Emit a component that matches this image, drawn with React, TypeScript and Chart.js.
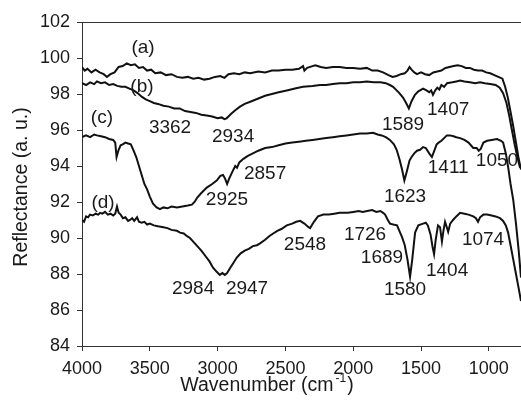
import React, { useEffect, useRef } from "react";
import { Chart, registerables } from "chart.js";

Chart.register(...registerables);

const waveA = [4000,3980,3960,3930,3900,3870,3840,3816,3790,3760,3730,3700,3670,3640,3610,3580,3550,3520,3490,3460,3420,3380,3340,3300,3260,3220,3180,3140,3100,3060,3020,2980,2950,2920,2880,2840,2800,2760,2700,2650,2600,2550,2500,2450,2400,2370,2360,2340,2300,2280,2240,2200,2150,2100,2050,2000,1950,1900,1860,1820,1780,1740,1710,1680,1650,1620,1600,1585,1570,1550,1530,1500,1470,1440,1410,1380,1350,1320,1290,1260,1230,1200,1170,1140,1110,1080,1050,1020,990,960,930,900,880,860,840,820,800,780,763];
const reflA = [99.5,99.3,99.4,99.2,99.35,99.2,99.1,98.95,99.1,99.2,99.5,99.55,99.7,99.6,99.65,99.45,99.5,99.3,99.35,99.15,99.2,99.05,99.1,98.95,98.9,98.95,98.85,98.9,98.8,98.85,98.95,99.0,98.9,99.1,99.15,99.1,99.2,99.15,99.25,99.2,99.3,99.3,99.35,99.35,99.4,99.55,99.3,99.45,99.55,99.6,99.5,99.45,99.5,99.5,99.45,99.45,99.4,99.45,99.3,99.3,99.2,99.05,98.95,99.0,99.1,99.15,99.3,99.5,99.35,99.2,99.1,99.2,99.1,99.05,99.2,99.25,99.3,99.45,99.5,99.55,99.6,99.55,99.45,99.45,99.35,99.3,99.3,99.2,99.15,99.05,98.95,98.85,98.4,97.8,97.0,96.2,95.3,94.4,93.8];

const waveB = [4000,3970,3940,3910,3890,3860,3830,3800,3770,3740,3710,3680,3650,3620,3590,3560,3530,3500,3470,3440,3400,3360,3320,3280,3240,3200,3160,3120,3080,3040,3000,2970,2950,2934,2920,2900,2870,2835,2800,2750,2700,2650,2600,2550,2490,2430,2370,2300,2245,2200,2150,2100,2050,2000,1950,1900,1850,1800,1760,1730,1706,1680,1660,1633,1610,1590,1570,1545,1520,1485,1460,1440,1425,1412,1395,1380,1365,1350,1330,1308,1270,1240,1212,1180,1140,1100,1065,1030,990,950,920,895,870,850,830,810,790,770];
const reflB = [98.6,98.5,98.65,98.55,98.7,98.6,98.65,98.5,98.55,98.45,98.4,98.4,98.3,98.2,98.05,97.85,97.7,97.6,97.5,97.45,97.35,97.3,97.2,97.2,97.05,97.0,96.95,96.85,96.8,96.75,96.65,96.7,96.6,96.65,96.75,96.9,97.1,97.3,97.45,97.6,97.75,97.9,98.0,98.1,98.2,98.3,98.4,98.45,98.5,98.5,98.55,98.6,98.6,98.65,98.65,98.7,98.65,98.65,98.6,98.5,98.4,98.2,98.05,97.8,97.5,97.2,97.6,97.95,98.15,98.3,98.2,98.1,98.2,97.95,98.2,98.35,98.25,98.5,98.4,98.6,98.65,98.7,98.75,98.7,98.65,98.6,98.65,98.6,98.55,98.5,98.35,98.05,97.5,96.8,96.0,95.2,94.5,93.9];

const waveC = [4000,3970,3940,3910,3890,3860,3830,3800,3770,3755,3745,3730,3715,3700,3680,3660,3640,3625,3600,3580,3560,3540,3520,3500,3476,3450,3425,3400,3370,3340,3300,3260,3220,3190,3170,3150,3120,3080,3040,3005,2980,2960,2945,2930,2915,2890,2870,2857,2840,2810,2780,2740,2700,2650,2600,2550,2500,2450,2400,2350,2300,2250,2200,2150,2100,2050,2000,1950,1900,1854,1820,1790,1760,1730,1700,1680,1660,1640,1623,1605,1585,1570,1550,1530,1507,1485,1465,1440,1420,1400,1385,1370,1350,1330,1310,1286,1260,1240,1212,1180,1150,1115,1090,1075,1060,1040,1013,980,940,910,895,875,858,840,820,800,780,763];
const reflC = [95.6,95.7,95.6,95.75,95.7,95.65,95.6,95.5,95.45,95.3,94.5,94.9,95.15,95.2,95.3,95.25,95.2,94.95,94.5,94.0,93.5,93.0,92.7,92.3,91.9,91.7,91.6,91.7,91.65,91.75,91.7,91.75,91.8,91.85,92.0,92.25,92.5,92.8,93.0,93.2,93.45,93.5,93.3,93.0,93.3,93.7,94.0,93.9,94.2,94.4,94.55,94.7,94.85,95.0,95.05,95.15,95.25,95.3,95.35,95.4,95.45,95.5,95.55,95.6,95.65,95.7,95.75,95.8,95.8,95.85,95.75,95.7,95.6,95.45,95.2,94.9,94.4,93.8,93.2,93.7,94.3,94.5,94.7,94.85,94.9,95.05,95.0,94.7,94.5,94.9,95.2,95.3,95.4,95.55,95.7,95.7,95.65,95.6,95.55,95.45,95.3,95.0,95.0,94.85,94.95,95.3,95.4,95.45,95.5,95.4,95.3,94.7,93.95,93.0,92.1,90.8,89.3,87.8];

const waveD = [4000,3985,3970,3955,3941,3920,3900,3880,3867,3850,3830,3810,3790,3770,3755,3742,3730,3715,3698,3680,3660,3646,3630,3615,3594,3580,3560,3540,3520,3500,3470,3440,3400,3370,3340,3300,3277,3250,3225,3204,3180,3150,3120,3090,3060,3034,3010,2984,2965,2947,2930,2910,2885,2860,2830,2800,2770,2740,2710,2687,2650,2620,2590,2560,2530,2490,2450,2420,2392,2360,2330,2318,2290,2260,2220,2180,2140,2100,2075,2040,2000,1960,1930,1898,1860,1830,1800,1780,1765,1745,1729,1705,1677,1660,1640,1620,1600,1581,1565,1544,1520,1485,1465,1450,1430,1415,1404,1392,1375,1360,1346,1335,1323,1310,1300,1285,1264,1240,1212,1180,1150,1115,1095,1080,1065,1040,1013,980,950,918,895,875,858,840,820,800,780,763];
const reflD = [91.0,90.9,91.2,91.15,91.3,91.25,91.35,91.3,91.4,91.35,91.45,91.3,91.35,91.25,91.35,91.75,91.4,91.3,91.1,91.15,90.95,91.0,91.1,90.95,91.15,90.9,90.85,90.9,90.75,90.8,90.7,90.65,90.6,90.55,90.45,90.4,90.3,90.25,90.1,90.0,89.8,89.55,89.3,89.0,88.7,88.35,88.15,87.95,88.05,87.95,88.05,88.3,88.6,88.9,89.15,89.3,89.4,89.55,89.6,89.7,89.9,90.1,90.25,90.4,90.5,90.7,90.8,90.9,90.95,90.8,90.6,90.55,90.9,91.2,91.3,91.3,91.35,91.4,91.4,91.4,91.45,91.5,91.45,91.5,91.55,91.45,91.5,91.4,91.3,91.0,90.8,90.75,90.7,90.4,90.05,89.6,88.8,87.85,88.8,90.3,90.7,90.8,90.85,90.7,90.2,89.5,89.1,89.9,90.7,90.6,89.8,90.4,90.9,90.6,90.35,90.8,91.0,91.2,91.4,91.35,91.3,91.2,91.1,90.9,91.15,91.3,91.3,91.25,91.2,91.1,90.95,90.7,90.3,89.6,88.8,88.0,87.2,86.5];

const xTicks = [4000, 3500, 3000, 2500, 2000, 1500, 1000];
const yTicks = [84, 86, 88, 90, 92, 94, 96, 98, 100, 102];

const noteTexts = ["(a)","(b)","(c)","(d)","3362","2934","1589","1407","2925","2857","1623","1411","1050","2984","2947","2548","1726","1689","1580","1404","1074"];
const noteWave = [3550,3558,3853,3845,3351,2886,1633,1300,2931,2650,1618,1300,940,3181,2783,2356,1913,1788,1618,1308,1043];
const noteRefl = [100.56,98.4,96.7,91.95,96.1,95.6,96.3,97.15,92.15,93.55,92.3,93.9,94.3,87.2,87.2,89.6,90.2,88.9,87.1,88.2,89.9];

const FONT = "'Liberation Sans', Arial, sans-serif";
const INK = "#1a1a1a";

function pts(w: number[], r: number[]) {
  return w.map((x, i) => ({ x, y: r[i] }));
}

const overlay = {
  id: "overlay",
  afterDraw(chart: any) {
    const ctx = chart.ctx;
    const { left, right, top } = chart.chartArea;
    const xs = chart.scales.x;
    const ys = chart.scales.y;
    ctx.save();
    ctx.strokeStyle = "#333";
    ctx.lineWidth = 1;
    ctx.beginPath();
    ctx.moveTo(left, top + 0.5);
    ctx.lineTo(right, top + 0.5);
    ctx.stroke();

    ctx.fillStyle = INK;
    ctx.font = `19px ${FONT}`;
    ctx.textAlign = "center";
    ctx.textBaseline = "middle";
    noteTexts.forEach((t, i) => {
      ctx.fillText(t, xs.getPixelForValue(noteWave[i]), ys.getPixelForValue(noteRefl[i]));
    });

    // x title with superscript
    const main1 = "Wavenumber (cm";
    const sup = "-1";
    const main2 = ")";
    const big = `19.5px ${FONT}`;
    const small = `12px ${FONT}`;
    ctx.font = big;
    const w1 = ctx.measureText(main1).width;
    const w3 = ctx.measureText(main2).width;
    ctx.font = small;
    const w2 = ctx.measureText(sup).width + 3;
    const total = w1 + w2 + w3;
    const cx = 267;
    const cy = 386;
    const x0 = cx - total / 2;
    ctx.textAlign = "left";
    ctx.font = big;
    ctx.fillText(main1, x0, cy);
    ctx.font = small;
    ctx.fillText(sup, x0 + w1 + 2, cy - 7);
    ctx.font = big;
    ctx.fillText(main2, x0 + w1 + w2, cy);

    // y title
    ctx.translate(22, 187);
    ctx.rotate(-Math.PI / 2);
    ctx.textAlign = "center";
    ctx.fillText("Reflectance (a. u.)", 0, 0);
    ctx.restore();
  },
};

export default function App() {
  const ref = useRef<HTMLCanvasElement | null>(null);
  useEffect(() => {
    if (!ref.current) return;
    const mk = (w: number[], r: number[]) => ({
      data: pts(w, r),
      borderColor: "#111",
      borderWidth: 2,
      pointRadius: 0,
      tension: 0,
      fill: false,
    });
    const chart = new Chart(ref.current, {
      type: "line",
      data: {
        datasets: [mk(waveA, reflA), mk(waveB, reflB), mk(waveC, reflC), mk(waveD, reflD)],
      },
      options: {
        animation: false,
        responsive: false,
        maintainAspectRatio: false,
        layout: { padding: { top: 22, right: 0, left: 0, bottom: 0 } },
        plugins: { legend: { display: false }, tooltip: { enabled: false } },
        scales: {
          x: {
            type: "linear",
            reverse: true,
            min: 763,
            max: 4000,
            afterBuildTicks: (s: any) => {
              s.ticks = xTicks.map((v) => ({ value: v }));
            },
            afterFit: (s: any) => {
              s.height = 62;
            },
            ticks: {
              autoSkip: false,
              maxRotation: 0,
              padding: 7,
              color: INK,
              font: { family: FONT, size: 18 },
              callback: (v: any) => String(v),
            },
            grid: { drawOnChartArea: false, drawTicks: true, tickLength: 5, color: "#333" },
            border: { display: true, color: "#333", width: 1 },
          },
          y: {
            type: "linear",
            min: 84,
            max: 102,
            afterBuildTicks: (s: any) => {
              s.ticks = yTicks.map((v) => ({ value: v }));
            },
            afterFit: (s: any) => {
              s.width = 82;
            },
            ticks: {
              padding: 7,
              color: INK,
              font: { family: FONT, size: 18 },
              callback: (v: any) => String(v),
            },
            grid: { drawOnChartArea: false, drawTicks: true, tickLength: 5, color: "#333" },
            border: { display: true, color: "#333", width: 1 },
          },
        },
      },
      plugins: [overlay],
    });
    return () => chart.destroy();
  }, []);
  return (
    <div style={{ position: "fixed", left: 0, top: 0, width: 521, height: 408, background: "#fff", overflow: "hidden" }}>
      <canvas ref={ref} width={521} height={408} style={{ width: 521, height: 408, display: "block" }} />
    </div>
  );
}
